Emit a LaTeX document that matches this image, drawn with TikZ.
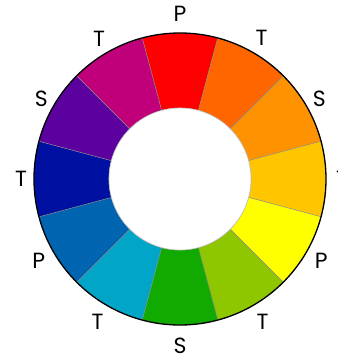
\documentclass[tikz,border=0pt]{standalone}
\usepackage{fontspec}
\setmainfont{Poppins}
\definecolor{rouge}{HTML}{FF0000}
\definecolor{rougeorange}{HTML}{FF6600}
\definecolor{orange}{HTML}{FF9200}
\definecolor{jauneorange}{HTML}{FFC600}
\definecolor{jaune}{HTML}{FFFF00}
\definecolor{jaunevert}{HTML}{8EC600}
\definecolor{vert}{HTML}{10AA00}
\definecolor{bleuvert}{HTML}{00A5C8}
\definecolor{bleu}{HTML}{0064B0}
\definecolor{bleuviolet}{HTML}{0010A0}
\definecolor{violet}{HTML}{5C00A0}
\definecolor{rougeviolet}{HTML}{C0007A}
\begin{document}
\begin{tikzpicture}[x=1pt, y=1pt,
		secteur/.style={draw=black!45, line width=0.4pt},
		lettre/.style={font=\fontsize{22}{24}\selectfont, inner sep=0pt}]
		\useasboundingbox (-180,-181) rectangle (158,179);
		%Secteurs de la roue
		\fill[secteur, fill=rouge] (75:146) arc[start angle=75, end angle=105, radius=146] -- (105:71) arc[start angle=105, end angle=75, radius=71] -- cycle;
		\fill[secteur, fill=rougeorange] (45:146) arc[start angle=45, end angle=75, radius=146] -- (75:71) arc[start angle=75, end angle=45, radius=71] -- cycle;
		\fill[secteur, fill=orange] (15:146) arc[start angle=15, end angle=45, radius=146] -- (45:71) arc[start angle=45, end angle=15, radius=71] -- cycle;
		\fill[secteur, fill=jauneorange] (-15:146) arc[start angle=-15, end angle=15, radius=146] -- (15:71) arc[start angle=15, end angle=-15, radius=71] -- cycle;
		\fill[secteur, fill=jaune] (-45:146) arc[start angle=-45, end angle=-15, radius=146] -- (-15:71) arc[start angle=-15, end angle=-45, radius=71] -- cycle;
		\fill[secteur, fill=jaunevert] (-75:146) arc[start angle=-75, end angle=-45, radius=146] -- (-45:71) arc[start angle=-45, end angle=-75, radius=71] -- cycle;
		\fill[secteur, fill=vert] (-105:146) arc[start angle=-105, end angle=-75, radius=146] -- (-75:71) arc[start angle=-75, end angle=-105, radius=71] -- cycle;
		\fill[secteur, fill=bleuvert] (-135:146) arc[start angle=-135, end angle=-105, radius=146] -- (-105:71) arc[start angle=-105, end angle=-135, radius=71] -- cycle;
		\fill[secteur, fill=bleu] (-165:146) arc[start angle=-165, end angle=-135, radius=146] -- (-135:71) arc[start angle=-135, end angle=-165, radius=71] -- cycle;
		\fill[secteur, fill=bleuviolet] (165:146) arc[start angle=165, end angle=195, radius=146] -- (195:71) arc[start angle=195, end angle=165, radius=71] -- cycle;
		\fill[secteur, fill=violet] (135:146) arc[start angle=135, end angle=165, radius=146] -- (165:71) arc[start angle=165, end angle=135, radius=71] -- cycle;
		\fill[secteur, fill=rougeviolet] (105:146) arc[start angle=105, end angle=135, radius=146] -- (135:71) arc[start angle=135, end angle=105, radius=71] -- cycle;
		%Cercles
		\draw[line width=1.3pt] (0,0) circle[radius=146];
		\filldraw[fill=white, draw=black!25, line width=0.6pt] (0,0) circle[radius=71];
		%Lettres autour de la roue
		\node[lettre] (P1) at (90:165) {P};
		\node[lettre] (T1) at (60:163) {T};
		\node[lettre] (S1) at (30:161) {S};
		\node[lettre] (T2) at (0:162) {T};
		\node[lettre] (P2) at (-30:163) {P};
		\node[lettre] (T3) at (-60:165) {T};
		\node[lettre] (S2) at (-90:167) {S};
		\node[lettre] (T4) at (-120:165) {T};
		\node[lettre] (P3) at (-150:163) {P};
		\node[lettre] (T5) at (180:159) {T};
		\node[lettre] (S3) at (150:160) {S};
		\node[lettre] (T6) at (120:162) {T};
		\end{tikzpicture}
\end{document}
